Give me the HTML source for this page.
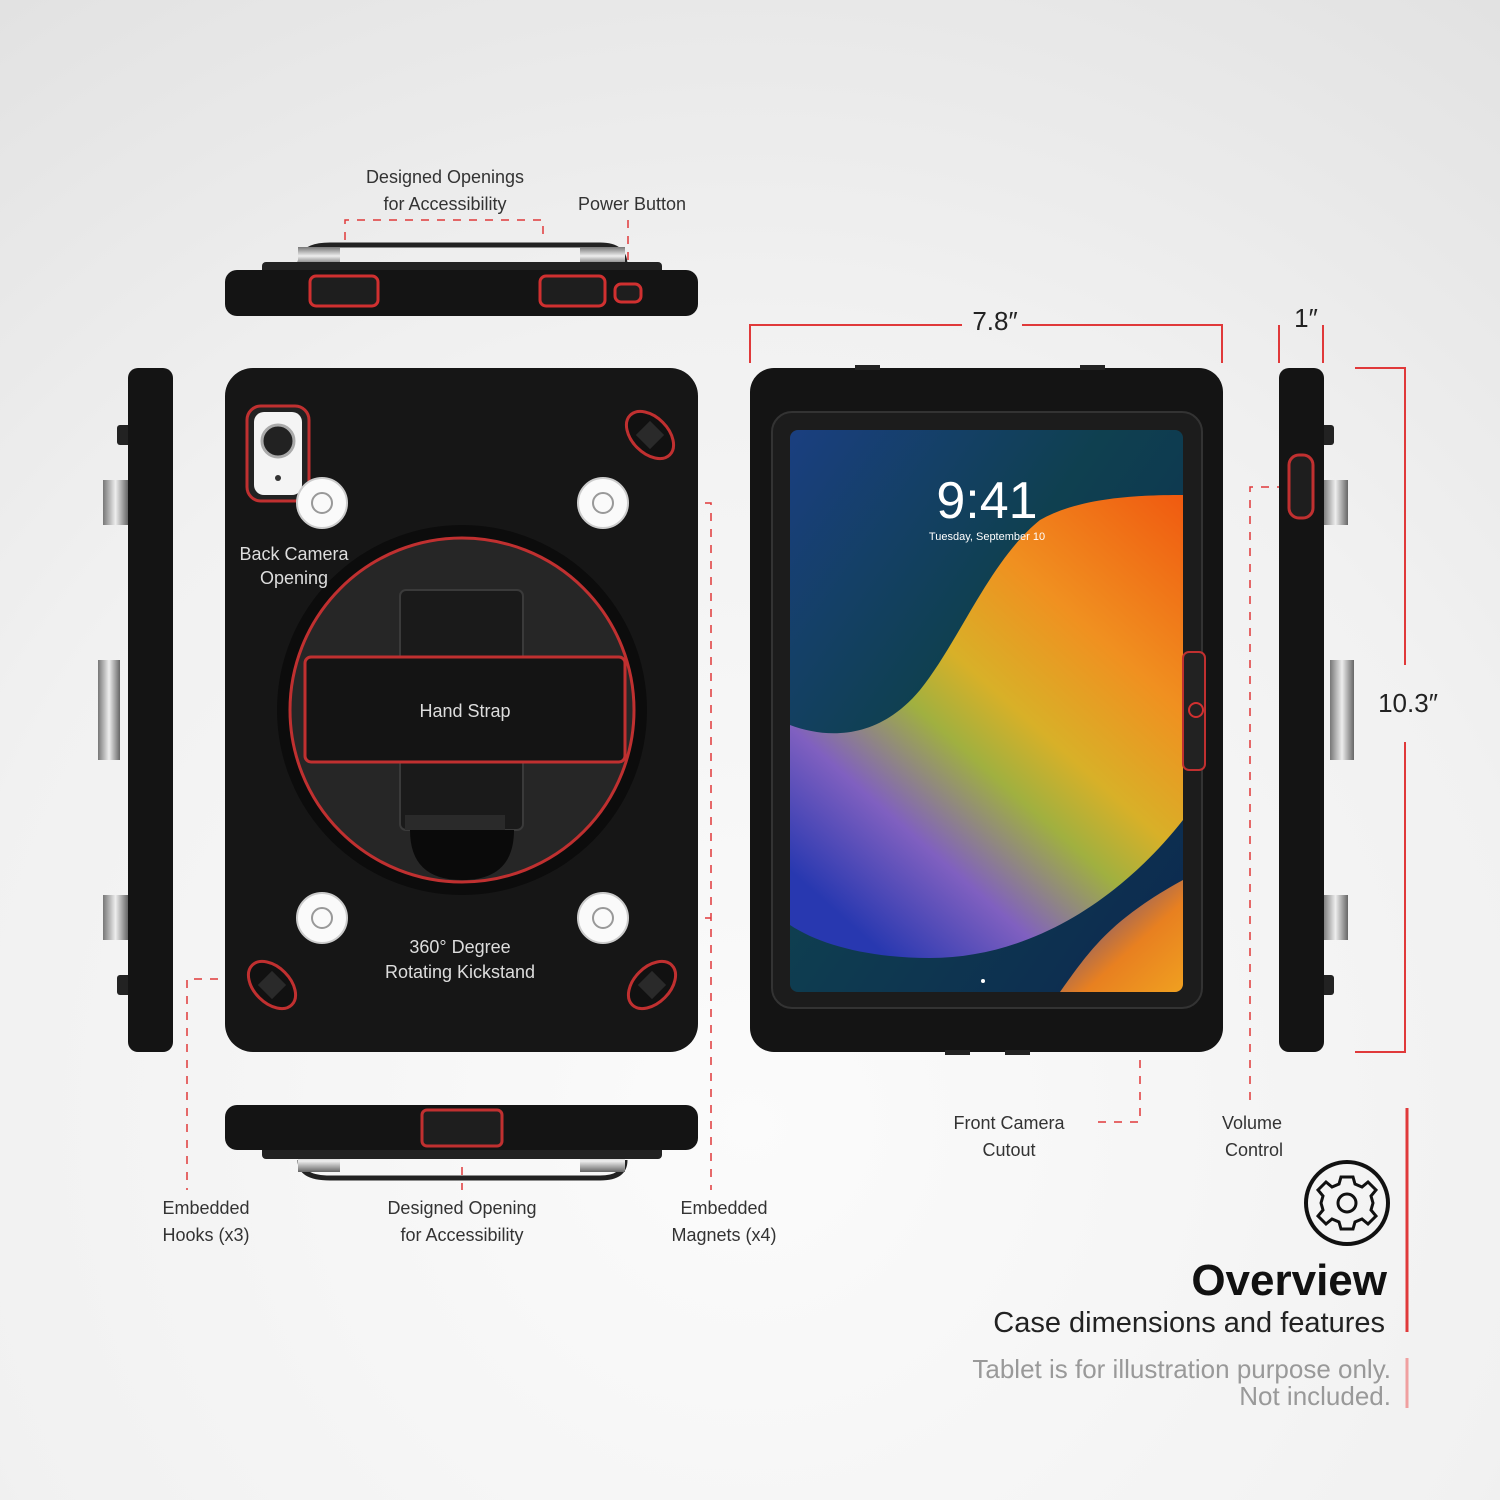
<!DOCTYPE html>
<html><head><meta charset="utf-8"><style>
html,body{margin:0;padding:0;width:1500px;height:1500px;overflow:hidden}
svg{display:block}
text{font-family:"Liberation Sans",sans-serif}
</style></head><body>
<svg width="1500" height="1500" viewBox="0 0 1500 1500" xmlns="http://www.w3.org/2000/svg">
<defs>
<radialGradient id="bg" cx="0.5" cy="0.75" r="0.9">
<stop offset="0" stop-color="#fbfbfb"/><stop offset="0.6" stop-color="#f1f1f1"/><stop offset="1" stop-color="#e2e2e2"/>
</radialGradient>
<linearGradient id="silver" x1="0" y1="0" x2="0" y2="1"><stop offset="0" stop-color="#777"/><stop offset="0.5" stop-color="#eee"/><stop offset="1" stop-color="#666"/></linearGradient>
<linearGradient id="silverh" x1="0" y1="0" x2="1" y2="0"><stop offset="0" stop-color="#777"/><stop offset="0.5" stop-color="#eee"/><stop offset="1" stop-color="#666"/></linearGradient>
<linearGradient id="scr" x1="0" y1="0" x2="1" y2="1">
<stop offset="0" stop-color="#1a3f80"/><stop offset="0.4" stop-color="#0f4050"/><stop offset="1" stop-color="#0c2850"/>
</linearGradient>
<linearGradient id="wave" x1="1" y1="0" x2="0.25" y2="1">
<stop offset="0" stop-color="#f05a10"/><stop offset="0.3" stop-color="#f09020"/><stop offset="0.5" stop-color="#d8b028"/><stop offset="0.62" stop-color="#a0b040"/><stop offset="0.8" stop-color="#8060c0"/><stop offset="1" stop-color="#2838b0"/>
</linearGradient>
<linearGradient id="corner" x1="0" y1="0" x2="1" y2="1"><stop offset="0" stop-color="#3040b0"/><stop offset="0.6" stop-color="#e88020"/><stop offset="1" stop-color="#f0a020"/></linearGradient>
</defs>
<rect width="1500" height="1500" fill="url(#bg)"/>

<g stroke="#e0393a" stroke-width="1.5" fill="none" stroke-dasharray="8,8">
<polyline points="345,240 345,220 543,220 543,240"/>
<line x1="628" y1="220" x2="628" y2="285"/>
<line x1="288" y1="505" x2="288" y2="540"/>
<polyline points="625,503 711,503 711,1190"/>
<line x1="625" y1="918" x2="711" y2="918"/>
<polyline points="250,979 187,979 187,1190"/>
<line x1="460" y1="900" x2="460" y2="930"/>
<line x1="462" y1="1135" x2="462" y2="1190"/>
<polyline points="1190,710 1140,710 1140,1122 1090,1122"/>
<polyline points="1285,487 1250,487 1250,1105"/>
</g>

<!-- top view -->
<path d="M300 265 Q300 245 330 245 L600 245 Q625 245 625 265" stroke="#222" stroke-width="5" fill="none"/>
<rect x="298" y="247" width="42" height="18" fill="url(#silver)"/>
<rect x="580" y="247" width="45" height="18" fill="url(#silver)"/>
<rect x="262" y="262" width="400" height="12" rx="4" fill="#222"/>
<rect x="225" y="270" width="473" height="46" rx="12" fill="#141414"/>
<rect x="310" y="276" width="68" height="30" rx="6" fill="#1e1e1e" stroke="#d03030" stroke-width="3"/>
<rect x="540" y="276" width="65" height="30" rx="6" fill="#1e1e1e" stroke="#d03030" stroke-width="3"/>
<rect x="615" y="284" width="26" height="18" rx="6" fill="#1e1e1e" stroke="#d03030" stroke-width="3"/>

<!-- left side -->
<rect x="98" y="660" width="22" height="100" fill="url(#silverh)"/>
<rect x="103" y="480" width="25" height="45" fill="url(#silverh)"/>
<rect x="103" y="895" width="25" height="45" fill="url(#silverh)"/>
<rect x="117" y="425" width="14" height="20" rx="3" fill="#222"/>
<rect x="117" y="975" width="14" height="20" rx="3" fill="#222"/>
<rect x="128" y="368" width="45" height="684" rx="10" fill="#141414"/>

<!-- back view -->
<rect x="225" y="368" width="473" height="684" rx="28" fill="#161616"/>
<circle cx="462" cy="710" r="185" fill="#0c0c0c"/>
<circle cx="462" cy="710" r="172" fill="#262626" stroke="#c03030" stroke-width="3"/>
<rect x="400" y="590" width="123" height="240" rx="6" fill="#1a1a1a" stroke="#3a3a3a" stroke-width="2"/>
<path d="M410 830 L514 830 Q514 880 462 880 Q410 880 410 830Z" fill="#0a0a0a"/>
<rect x="405" y="815" width="100" height="15" fill="#2a2a2a"/>
<rect x="305" y="657" width="320" height="105" rx="6" fill="#141414" stroke="#c03030" stroke-width="3"/>
<text x="465" y="717" fill="#ddd" font-size="18" text-anchor="middle">Hand Strap</text>
<rect x="247" y="406" width="62" height="95" rx="14" fill="#222" stroke="#c03030" stroke-width="3"/>
<rect x="254" y="412" width="48" height="83" rx="10" fill="#f4f4f4"/>
<circle cx="278" cy="441" r="16" fill="#222" stroke="#aaa" stroke-width="3"/>
<circle cx="278" cy="478" r="3" fill="#333"/>
<g fill="#fafafa" stroke="#ccc" stroke-width="2">
<circle cx="322" cy="503" r="25"/><circle cx="603" cy="503" r="25"/>
<circle cx="322" cy="918" r="25"/><circle cx="603" cy="918" r="25"/>
</g>
<g fill="none" stroke="#999" stroke-width="2">
<circle cx="322" cy="503" r="10"/><circle cx="603" cy="503" r="10"/>
<circle cx="322" cy="918" r="10"/><circle cx="603" cy="918" r="10"/>
</g>
<g fill="#111" stroke="#c03030" stroke-width="3">
<ellipse cx="650" cy="435" rx="28" ry="18" transform="rotate(45 650 435)"/>
<ellipse cx="272" cy="985" rx="28" ry="18" transform="rotate(45 272 985)"/>
<ellipse cx="652" cy="985" rx="28" ry="18" transform="rotate(-45 652 985)"/>
</g>
<g fill="#2a2a2a">
<rect x="640" y="425" width="20" height="20" transform="rotate(45 650 435)"/>
<rect x="262" y="975" width="20" height="20" transform="rotate(45 272 985)"/>
<rect x="642" y="975" width="20" height="20" transform="rotate(-45 652 985)"/>
</g>
<text x="294" y="560" fill="#ddd" font-size="18" text-anchor="middle">Back Camera</text>
<text x="294" y="584" fill="#ddd" font-size="18" text-anchor="middle">Opening</text>
<text x="460" y="953" fill="#ddd" font-size="18" text-anchor="middle">360° Degree</text>
<text x="460" y="978" fill="#ddd" font-size="18" text-anchor="middle">Rotating Kickstand</text>

<!-- front view -->
<rect x="750" y="368" width="473" height="684" rx="24" fill="#141414"/>
<rect x="772" y="412" width="430" height="596" rx="20" fill="#1c1c1c" stroke="#333" stroke-width="2"/>
<clipPath id="sc"><rect x="790" y="430" width="393" height="562" rx="8"/></clipPath>
<g clip-path="url(#sc)">
<rect x="790" y="430" width="393" height="562" fill="url(#scr)"/>
<path d="M790 725 C830 740 880 738 920 690 C960 640 990 560 1040 520 C1080 497 1140 495 1183 495 L1183 820 C1120 900 1030 958 930 958 C870 958 820 945 790 925 Z" fill="url(#wave)"/>
<path d="M1060 992 C1090 950 1110 920 1183 880 L1183 992 Z" fill="url(#corner)"/>
</g>
<text x="987" y="518" fill="#fff" font-size="52" text-anchor="middle">9:41</text>
<text x="987" y="540" fill="#fff" font-size="11" text-anchor="middle">Tuesday, September 10</text>
<circle cx="983" cy="981" r="2" fill="#fff"/>
<rect x="1183" y="652" width="22" height="118" rx="6" fill="#222" stroke="#c03030" stroke-width="2"/>
<circle cx="1196" cy="710" r="7" fill="none" stroke="#d03030" stroke-width="2"/>
<rect x="855" y="365" width="25" height="5" fill="#222"/><rect x="1080" y="365" width="25" height="5" fill="#222"/>
<rect x="945" y="1050" width="25" height="5" fill="#222"/><rect x="1005" y="1050" width="25" height="5" fill="#222"/>

<!-- right side -->
<rect x="1330" y="660" width="24" height="100" fill="url(#silverh)"/>
<rect x="1323" y="480" width="25" height="45" fill="url(#silverh)"/>
<rect x="1323" y="895" width="25" height="45" fill="url(#silverh)"/>
<rect x="1320" y="425" width="14" height="20" rx="3" fill="#222"/>
<rect x="1320" y="975" width="14" height="20" rx="3" fill="#222"/>
<rect x="1279" y="368" width="45" height="684" rx="10" fill="#141414"/>
<rect x="1289" y="455" width="24" height="63" rx="10" fill="#1e1e1e" stroke="#c03030" stroke-width="3"/>

<!-- bottom view -->
<path d="M300 1160 Q300 1178 330 1178 L600 1178 Q625 1178 625 1160" stroke="#222" stroke-width="5" fill="none"/>
<rect x="298" y="1150" width="42" height="22" fill="url(#silver)"/>
<rect x="580" y="1150" width="45" height="22" fill="url(#silver)"/>
<rect x="262" y="1145" width="400" height="14" rx="4" fill="#222"/>
<rect x="225" y="1105" width="473" height="45" rx="12" fill="#141414"/>
<rect x="422" y="1110" width="80" height="36" rx="5" fill="#1e1e1e" stroke="#c03030" stroke-width="3"/>

<!-- dimensions -->
<g stroke="#e0393a" stroke-width="2" fill="none">
<polyline points="750,363 750,325 962,325"/><polyline points="1022,325 1222,325 1222,363"/>
<line x1="1279" y1="325" x2="1279" y2="363"/><line x1="1323" y1="325" x2="1323" y2="363"/>
<polyline points="1355,368 1405,368 1405,665"/><polyline points="1405,742 1405,1052 1355,1052"/>
</g>
<line x1="1407" y1="1108" x2="1407" y2="1332" stroke="#e0393a" stroke-width="3"/>
<line x1="1407" y1="1358" x2="1407" y2="1408" stroke="#f0a0a0" stroke-width="3"/>
<text x="995" y="330" fill="#222" font-size="26" text-anchor="middle">7.8″</text>
<text x="1306" y="327" fill="#222" font-size="26" text-anchor="middle">1″</text>
<text x="1408" y="712" fill="#222" font-size="26" text-anchor="middle">10.3″</text>

<g fill="#333" font-size="18" text-anchor="middle">
<text x="445" y="183">Designed Openings</text><text x="445" y="210">for Accessibility</text>
<text x="632" y="210">Power Button</text>
<text x="206" y="1214">Embedded</text><text x="206" y="1241">Hooks (x3)</text>
<text x="462" y="1214">Designed Opening</text><text x="462" y="1241">for Accessibility</text>
<text x="724" y="1214">Embedded</text><text x="724" y="1241">Magnets (x4)</text>
<text x="1009" y="1129">Front Camera</text><text x="1009" y="1156">Cutout</text>
<text x="1252" y="1129">Volume</text><text x="1254" y="1156">Control</text>
</g>

<!-- overview -->
<circle cx="1347" cy="1203" r="41" fill="none" stroke="#111" stroke-width="4"/>
<g transform="translate(1347 1203)" fill="none" stroke="#111" stroke-width="3">
<path d="M-6 -26 L6 -26 L8 -19 L15 -16 L21 -21 L29 -13 L24 -7 L26 0 L24 7 L29 13 L21 21 L15 16 L8 19 L6 26 L-6 26 L-8 19 L-15 16 L-21 21 L-29 13 L-24 7 L-26 0 L-24 -7 L-29 -13 L-21 -21 L-15 -16 L-8 -19 Z"/>
<circle r="9"/>
</g>
<text x="1387" y="1295" fill="#111" font-size="44" font-weight="bold" text-anchor="end">Overview</text>
<text x="1385" y="1332" fill="#222" font-size="29" text-anchor="end">Case dimensions and features</text>
<text x="1391" y="1378" fill="#999" font-size="26" text-anchor="end">Tablet is for illustration purpose only.</text>
<text x="1391" y="1405" fill="#999" font-size="26" text-anchor="end">Not included.</text>
</svg>
</body></html>
